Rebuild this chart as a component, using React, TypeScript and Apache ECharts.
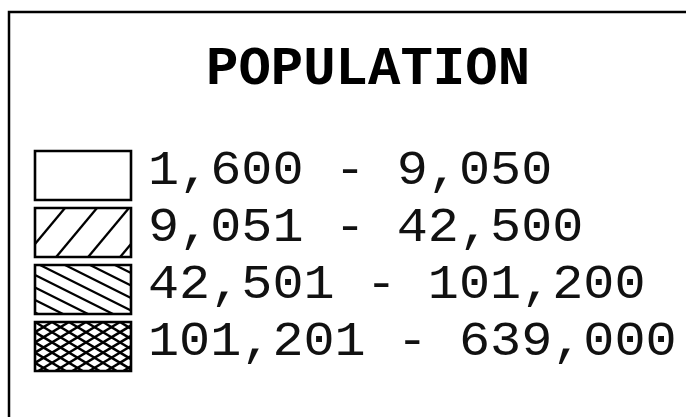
import React, { useEffect, useRef } from "react";
import * as echarts from "echarts";

const titleText = "POPULATION";
const lows = [1600, 9051, 42501, 101201];
const highs = [9050, 42500, 101200, 639000];
const hatchKinds = ["none", "forward", "backward", "cross"];

const fmt = (v: number) => v.toLocaleString("en-US");
const labels = lows.map((lo, i) => `${fmt(lo)} - ${fmt(highs[i])}`);

function clipLine(px: number, py: number, dx: number, dy: number, x0: number, y0: number, x1: number, y1: number) {
  let tmin = -Infinity;
  let tmax = Infinity;
  const axes: [number, number, number, number][] = [
    [px, dx, x0, x1],
    [py, dy, y0, y1],
  ];
  for (const [p, d, lo, hi] of axes) {
    if (d === 0) {
      if (p < lo || p > hi) return null;
    } else {
      const t1 = (lo - p) / d;
      const t2 = (hi - p) / d;
      tmin = Math.max(tmin, Math.min(t1, t2));
      tmax = Math.min(tmax, Math.max(t1, t2));
    }
  }
  if (tmin >= tmax - 0.5) return null;
  return [px + dx * tmin, py + dy * tmin, px + dx * tmax, py + dy * tmax];
}

function hatch(x0: number, y0: number, w: number, h: number, dx: number, dy: number, spacing: number, phase: number, lw: number) {
  const out: any[] = [];
  const reach = (h * Math.abs(dx)) / Math.abs(dy) + spacing;
  const kmin = Math.floor((-reach - phase) / spacing);
  const kmax = Math.ceil((w + reach - phase) / spacing);
  for (let k = kmin; k <= kmax; k++) {
    const px = x0 + phase + k * spacing;
    const seg = clipLine(px, y0, dx, dy, x0, y0, x0 + w, y0 + h);
    if (!seg) continue;
    out.push({
      type: "line",
      shape: { x1: seg[0], y1: seg[1], x2: seg[2], y2: seg[3] },
      style: { stroke: "#000", lineWidth: lw },
    });
  }
  return out;
}

export default function App() {
  const ref = useRef<HTMLDivElement>(null);
  useEffect(() => {
    if (!ref.current) return;
    const chart = echarts.init(ref.current, null, { renderer: "svg" });
    const boxX = 35;
    const boxW = 96;
    const boxH = 49;
    chart.setOption({
      animation: false,
      backgroundColor: "#fff",
      title: {
        text: titleText,
        left: 201,
        top: 37,
        textStyle: {
          fontFamily: "Liberation Mono",
          fontWeight: "bold",
          fontSize: 54,
          color: "#000",
        },
      },
      graphic: [
        {
          type: "polyline",
          shape: { points: [[9, 417], [9, 12], [686, 12]] },
          style: { stroke: "#000", lineWidth: 2.5, fill: "none" },
        },
      ],
      grid: { left: 0, right: 0, top: 147, height: 228 },
      xAxis: { type: "value", min: 0, max: 1, show: false },
      yAxis: { type: "category", data: labels, inverse: true, show: false },
      series: [
        {
          type: "custom",
          data: labels.map((_, i) => [0, i]),
          encode: { x: 0, y: 1 },
          renderItem: (params: any, api: any) => {
            const idx = api.value(1);
            const c = api.coord([0, idx]);
            const cy = c[1];
            const y0 = cy - boxH / 2;
            const kind = hatchKinds[idx];
            let lines: any[] = [];
            if (kind === "forward") lines = hatch(boxX, y0, boxW, boxH, 1, -1.2, 32, 30, 2.3);
            if (kind === "backward") lines = hatch(boxX, y0, boxW, boxH, 1, 0.5, 25, 5, 2.3);
            if (kind === "cross") {
              lines = hatch(boxX, y0, boxW, boxH, 1, 0.6, 17, 0, 2.6).concat(
                hatch(boxX, y0, boxW, boxH, 1, -0.6, 17, 0, 2.6)
              );
            }
            return {
              type: "group",
              children: [
                {
                  type: "rect",
                  shape: { x: boxX, y: y0, width: boxW, height: boxH },
                  style: { fill: "#fff", stroke: "none" },
                },
                ...lines,
                {
                  type: "rect",
                  shape: { x: boxX, y: y0, width: boxW, height: boxH },
                  style: { fill: "none", stroke: "#000", lineWidth: 2.6 },
                },
                {
                  type: "text",
                  x: 148,
                  y: cy - 4,
                  scaleX: 1.08,
                  style: {
                    text: labels[idx],
                    x: 0,
                    y: 0,
                    fill: "#111",
                    fontFamily: "Liberation Mono",
                    fontSize: 48,
                    verticalAlign: "middle",
                    align: "left",
                  },
                },
              ],
            };
          },
        },
      ],
    });
    return () => chart.dispose();
  }, []);
  return (
    <div
      ref={ref}
      style={{ position: "fixed", left: 0, top: 0, width: 686, height: 417 }}
    />
  );
}
